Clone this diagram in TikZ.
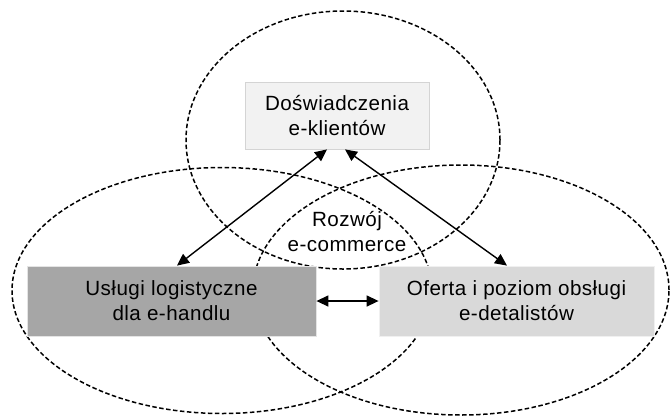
\documentclass[tikz,border=0pt]{standalone}
\usepackage{fontspec}
\setmainfont{Liberation Sans}[LetterSpace=2.2]
\usetikzlibrary{arrows.meta}
\definecolor{topfill}{HTML}{F2F2F2}
\definecolor{topedge}{HTML}{D4D4D4}
\definecolor{leftfill}{HTML}{A6A6A6}
\definecolor{rightfill}{HTML}{D9D9D9}
\tikzset{
  ring/.style={draw=black, line width=1.5pt, dash pattern=on 4.5pt off 2.5pt},
  boxnode/.style={rectangle, inner sep=0pt, align=center, font=\fontsize{20.6}{25}\selectfont},
  link/.style={line width=1.4pt, {Triangle[length=12pt,width=11pt]}-{Triangle[length=12pt,width=11pt]}},
}
\begin{document}
\begin{tikzpicture}[x=1pt,y=-1pt]
\useasboundingbox (0,0) rectangle (671,416);
% circles
\draw[ring] (343,140) ellipse [x radius=157pt, y radius=129pt];
\draw[ring] (222,290.5) ellipse [x radius=210pt, y radius=123pt];
\draw[ring] (461,290) ellipse [x radius=208pt, y radius=125pt];
% boxes
\node[boxnode, fill=topfill, draw=topedge, line width=0.8pt, minimum width=184pt, minimum height=67pt] (top) at (337,115.5) {Doświadczenia\\e-klientów};
\node[boxnode, fill=leftfill, draw=white!70!leftfill, line width=0.8pt, minimum width=289pt, minimum height=70pt] (left) at (171.5,301) {Usługi logistyczne\\dla e-handlu};
\node[boxnode, fill=rightfill, draw=white!60!rightfill, line width=0.8pt, minimum width=275pt, minimum height=70pt] (right) at (516.5,301) {Oferta i poziom obsługi\\e-detalistów};
\node[boxnode] (core) at (347,232) {Rozwój\\e-commerce};
% connectors
\draw[link] ([xshift=-10pt]top.south) -- ([xshift=5.5pt]left.north);
\draw[link] ([xshift=8pt]top.south) -- ([xshift=-9.5pt]right.north);
\draw[link] (left.east) -- (right.west);
\end{tikzpicture}
\end{document}
